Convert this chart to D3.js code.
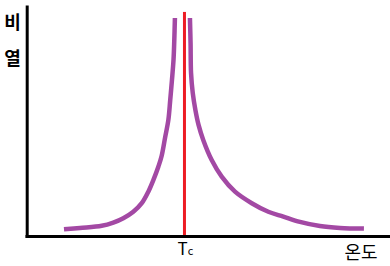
<!DOCTYPE html>
<html>
<head>
<meta charset="utf-8">
<script src="https://cdn.jsdelivr.net/npm/d3@7"></script>
<style>
	body { margin: 0; background: #fff; }
	svg { display: block; }
	text { font-family: 'Noto Sans CJK KR', 'Noto Sans', sans-serif; fill: #000; }
</style>
</head>
<body>
<svg width="390" height="266"></svg>
<script>
// temperature / specific heat (arbitrary units)
const leftTemp = [23.0, 33.2, 47.1, 54.5, 60.9, 67.3, 72.7, 76.9, 80.1, 83.3, 85.4, 87.7, 89.7, 90.9, 92.0, 93.0, 93.5, 93.9]
const leftHeat = [2.9, 3.5, 4.4, 5.8, 7.7, 10.5, 14.2, 19.2, 24.2, 30.0, 34.6, 42.9, 50.2, 58.9, 67.5, 76.2, 84.8, 94.4]
const rightTemp = [103.5, 103.9, 104.2, 105.3, 107.0, 109.0, 112.0, 117.4, 123.8, 132.3, 143.0, 153.6, 163.2, 173.8, 186.6, 199.4, 214.7]
const rightHeat = [94.4, 83.5, 70.6, 61.9, 54.5, 48.1, 41.6, 32.9, 25.7, 19.2, 14.2, 10.5, 8.4, 6.1, 4.3, 3.5, 3.2]
const Tc = 100
const TcTop = 97
const yLabel = ['비', '열']
const xLabel = '온도'

const svg = d3.select('svg')
const x = d3.scaleLinear().domain([0, 232]).range([28, 391])
const y = d3.scaleLinear().domain([0, 100]).range([236, 5])

const line = d3.line()
	.x(d => x(d[0]))
	.y(d => y(d[1]))
	.curve(d3.curveCatmullRom.alpha(0.5))

const branches = [
	d3.zip(leftTemp, leftHeat),
	d3.zip(rightTemp, rightHeat)
]

svg.selectAll('path.branch')
	.data(branches)
	.enter()
	.append('path')
	.attr('class', 'branch')
	.attr('d', line)
	.attr('fill', 'none')
	.attr('stroke', '#a349a4')
	.attr('stroke-width', 4.5)

// critical temperature
svg.append('line')
	.attr('x1', x(Tc)).attr('x2', x(Tc))
	.attr('y1', y(TcTop)).attr('y2', y(0))
	.attr('stroke', '#ed1c24')
	.attr('stroke-width', 3)

// axes, no ticks
svg.append('g')
	.attr('transform', `translate(0,${y(0)})`)
	.call(d3.axisBottom(d3.scaleLinear().range([25, 390])).ticks(0).tickSizeOuter(0))
svg.append('g')
	.attr('transform', `translate(26.7,0)`)
	.call(d3.axisLeft(d3.scaleLinear().range([5, 237.3])).ticks(0).tickSizeOuter(0))
svg.selectAll('.domain').attr('stroke', '#000').attr('stroke-width', 3)

svg.selectAll('text.ylab')
	.data(yLabel)
	.enter()
	.append('text')
	.attr('class', 'ylab')
	.attr('x', 12.5)
	.attr('y', (d, i) => 21 + i * 36)
	.attr('text-anchor', 'middle')
	.attr('dominant-baseline', 'central')
	.attr('font-size', 18)
	.attr('font-weight', 'bold')
	.text(d => d)

const tc = svg.append('text')
	.attr('x', 177.5)
	.attr('y', 254.7)
	.attr('font-size', 17)
tc.append('tspan').text('T')
tc.append('tspan').attr('font-size', 11).text('c')

svg.append('text')
	.attr('x', 361)
	.attr('y', 250.5)
	.attr('text-anchor', 'middle')
	.attr('dominant-baseline', 'central')
	.attr('font-size', 18)
	.text(xLabel)
</script>
</body>
</html>
